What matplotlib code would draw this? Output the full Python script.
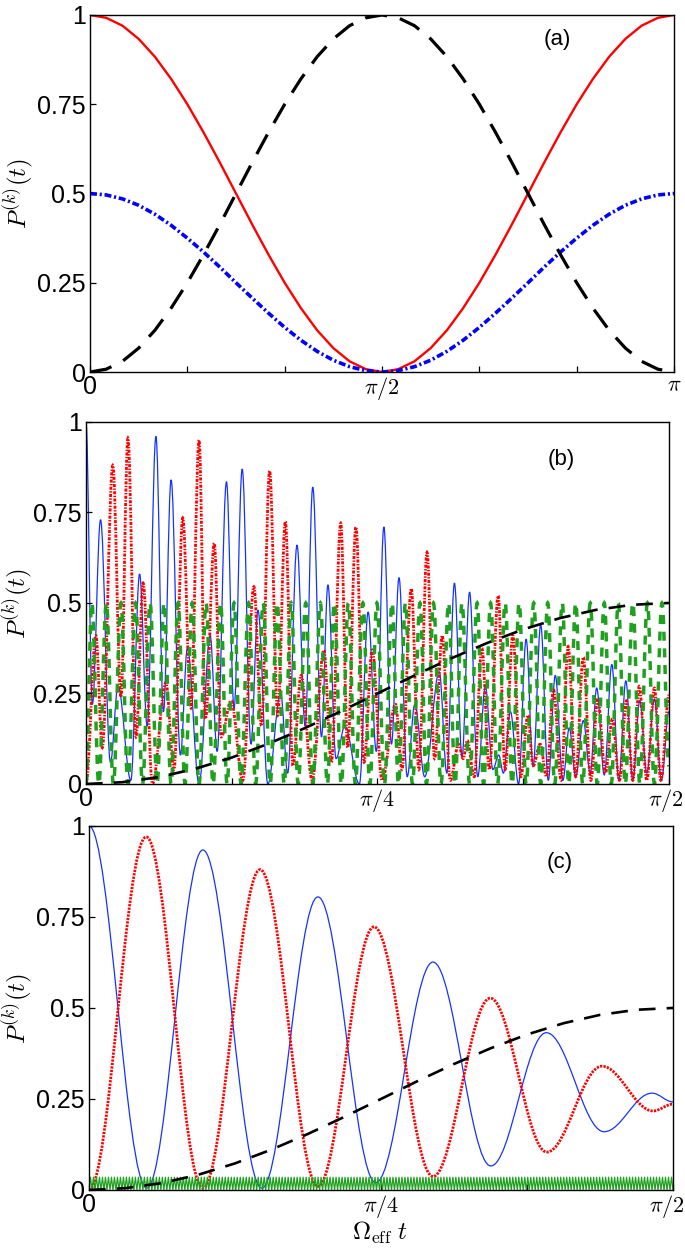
import numpy as np
import matplotlib
matplotlib.use("Agg")
import matplotlib.pyplot as plt
import matplotlib.transforms as mtransforms
from matplotlib.path import Path
from matplotlib.patches import PathPatch
from matplotlib import font_manager

# condensed sans for the numbers if it is there
_names = {f.name for f in font_manager.fontManager.ttflist}
_num_font = 'Liberation Sans Narrow' if 'Liberation Sans Narrow' in _names else 'Liberation Sans'
plt.rcParams['font.family'] = [_num_font, 'DejaVu Sans']
plt.rcParams['mathtext.fontset'] = 'cm'
plt.rcParams['lines.scale_dashes'] = False

# ---------------- data ----------------
# panel (a): t in units of pi, every 5 degrees from 0 to pi
t_a = np.linspace(0.0, 1.0, 37)
red_a = [1.000, 0.992, 0.970, 0.933, 0.883, 0.821, 0.750, 0.671, 0.587, 0.500,
         0.413, 0.329, 0.250, 0.179, 0.117, 0.067, 0.030, 0.008, 0.000, 0.008,
         0.030, 0.067, 0.117, 0.179, 0.250, 0.329, 0.413, 0.500, 0.587, 0.671,
         0.750, 0.821, 0.883, 0.933, 0.970, 0.992, 1.000]
black_a = [0.000, 0.008, 0.030, 0.067, 0.117, 0.179, 0.250, 0.329, 0.413, 0.500,
           0.587, 0.671, 0.750, 0.821, 0.883, 0.933, 0.970, 0.992, 1.000, 0.992,
           0.970, 0.933, 0.883, 0.821, 0.750, 0.671, 0.587, 0.500, 0.413, 0.329,
           0.250, 0.179, 0.117, 0.067, 0.030, 0.008, 0.000]
blue_a = [0.500, 0.496, 0.485, 0.467, 0.442, 0.411, 0.375, 0.336, 0.294, 0.250,
          0.207, 0.165, 0.125, 0.089, 0.058, 0.033, 0.015, 0.004, 0.000, 0.004,
          0.015, 0.033, 0.058, 0.089, 0.125, 0.165, 0.207, 0.250, 0.294, 0.336,
          0.375, 0.411, 0.442, 0.467, 0.485, 0.496, 0.500]

# panels (b),(c): t in units of pi/2
t_black = np.linspace(0.0, 1.0, 17)
black_bc = [0.000, 0.005, 0.019, 0.042, 0.073, 0.111, 0.154, 0.201, 0.250,
            0.299, 0.346, 0.389, 0.427, 0.458, 0.481, 0.495, 0.500]

# panel (b): turning points of each curve
blue_b_t = [0.000, 0.011, 0.025, 0.042, 0.055, 0.077, 0.092, 0.105, 0.120, 0.133,
            0.146, 0.162, 0.174, 0.194, 0.213, 0.225, 0.241, 0.254, 0.268, 0.283,
            0.295, 0.312, 0.334, 0.346, 0.362, 0.376, 0.389, 0.404, 0.415, 0.429,
            0.444, 0.469, 0.484, 0.498, 0.511, 0.524, 0.537, 0.551, 0.564, 0.581,
            0.606, 0.619, 0.632, 0.645, 0.658, 0.672, 0.685, 0.698, 0.708, 0.716,
            0.728, 0.742, 0.755, 0.767, 0.780, 0.793, 0.805, 0.818, 0.829, 0.840,
            0.853, 0.865, 0.876, 0.889, 0.902, 0.914, 0.926, 0.938, 0.950, 0.962,
            0.975, 0.987, 1.000]
blue_b_v = [1.00, 0.22, 0.73, 0.06, 0.27, 0.01, 0.58, 0.16, 0.96, 0.20,
            0.84, 0.08, 0.375, 0.00, 0.41, 0.09, 0.835, 0.21, 0.87, 0.11,
            0.48, 0.00, 0.25, 0.03, 0.66, 0.16, 0.82, 0.13, 0.55, 0.07,
            0.16, 0.00, 0.475, 0.09, 0.71, 0.11, 0.57, 0.02, 0.22, 0.02,
            0.31, 0.03, 0.555, 0.075, 0.53, 0.02, 0.27, 0.04, 0.08, 0.03,
            0.20, 0.00, 0.40, 0.05, 0.44, 0.01, 0.30, 0.01, 0.155, 0.02,
            0.175, 0.03, 0.265, 0.025, 0.33, 0.01, 0.285, 0.01, 0.23, 0.03,
            0.235, 0.01, 0.20]

red_b_t = [0.000, 0.017, 0.028, 0.046, 0.060, 0.072, 0.086, 0.098, 0.114, 0.137,
           0.151, 0.166, 0.180, 0.194, 0.205, 0.220, 0.232, 0.249, 0.269, 0.288,
           0.301, 0.315, 0.329, 0.342, 0.355, 0.369, 0.388, 0.408, 0.421, 0.437,
           0.449, 0.463, 0.477, 0.491, 0.508, 0.531, 0.542, 0.558, 0.571, 0.585,
           0.598, 0.611, 0.625, 0.639, 0.647, 0.654, 0.666, 0.679, 0.692, 0.707,
           0.719, 0.732, 0.746, 0.758, 0.767, 0.779, 0.790, 0.802, 0.815, 0.827,
           0.840, 0.853, 0.866, 0.878, 0.891, 0.903, 0.915, 0.927, 0.938, 0.949,
           0.962, 0.975, 0.986, 1.000]
red_b_v = [0.00, 0.41, 0.10, 0.88, 0.24, 0.955, 0.13, 0.555, 0.00, 0.28,
           0.04, 0.735, 0.21, 0.95, 0.18, 0.665, 0.13, 0.23, 0.01, 0.545,
           0.16, 0.865, 0.19, 0.725, 0.05, 0.30, 0.01, 0.37, 0.06, 0.72,
           0.10, 0.71, 0.06, 0.37, 0.01, 0.22, 0.04, 0.54, 0.04, 0.64,
           0.07, 0.41, 0.01, 0.11, 0.07, 0.12, 0.02, 0.375, 0.04, 0.52,
           0.04, 0.41, 0.02, 0.19, 0.05, 0.11, 0.02, 0.26, 0.01, 0.38,
           0.02, 0.35, 0.01, 0.235, 0.03, 0.18, 0.01, 0.23, 0.01, 0.27,
           0.01, 0.265, 0.01, 0.245]

green_b_t = [0.000, 0.010, 0.022, 0.035, 0.047, 0.060, 0.072, 0.085, 0.097, 0.110,
             0.122, 0.134, 0.146, 0.158, 0.170, 0.182, 0.194, 0.206, 0.218, 0.231,
             0.242, 0.254, 0.266, 0.279, 0.291, 0.304, 0.316, 0.328, 0.340, 0.352,
             0.364, 0.377, 0.389, 0.402, 0.414, 0.426, 0.438, 0.450, 0.462, 0.475,
             0.487, 0.499, 0.512, 0.525, 0.536, 0.548, 0.560, 0.573, 0.584, 0.596,
             0.609, 0.622, 0.633, 0.645, 0.658, 0.671, 0.682, 0.694, 0.706, 0.719,
             0.731, 0.743, 0.755, 0.768, 0.780, 0.792, 0.804, 0.817, 0.828, 0.840,
             0.852, 0.865, 0.877, 0.889, 0.901, 0.913, 0.925, 0.938, 0.950, 0.963,
             0.975, 0.988, 1.000]
green_b_v = [0.0, 0.5, 0.0, 0.5, 0.0, 0.5, 0.0, 0.5, 0.0, 0.5,
             0.0, 0.5, 0.0, 0.5, 0.0, 0.5, 0.0, 0.5, 0.0, 0.5,
             0.0, 0.5, 0.0, 0.5, 0.0, 0.5, 0.0, 0.5, 0.0, 0.5,
             0.0, 0.5, 0.0, 0.5, 0.0, 0.5, 0.0, 0.5, 0.0, 0.5,
             0.0, 0.5, 0.0, 0.5, 0.0, 0.5, 0.0, 0.5, 0.0, 0.5,
             0.0, 0.5, 0.0, 0.5, 0.0, 0.5, 0.0, 0.5, 0.0, 0.5,
             0.0, 0.5, 0.0, 0.5, 0.0, 0.5, 0.0, 0.5, 0.0, 0.5,
             0.0, 0.5, 0.0, 0.5, 0.0, 0.5, 0.0, 0.5, 0.0, 0.5,
             0.0, 0.5, 0.05]

# panel (c): turning points
blue_c_t = [0.000, 0.099, 0.195, 0.296, 0.392, 0.491, 0.589, 0.688, 0.783, 0.882, 0.964, 1.000]
blue_c_v = [1.000, 0.005, 0.934, 0.005, 0.805, 0.020, 0.626, 0.066, 0.432, 0.160, 0.266, 0.242]
red_c_t = [0.000, 0.098, 0.195, 0.293, 0.392, 0.488, 0.589, 0.687, 0.784, 0.878, 0.966, 1.000]
red_c_v = [0.000, 0.970, 0.005, 0.880, 0.010, 0.723, 0.037, 0.527, 0.104, 0.340, 0.217, 0.236]
green_c_low, green_c_high, green_c_cycles = 0.0, 0.035, 195

yticks = [0, 0.25, 0.5, 0.75, 1]
ytick_labels = ['0', '0.25', '0.5', '0.75', '1']


def smooth_line(ax, t, v, **kw):
    # smooth curve through turning points (flat tangent at each one)
    verts = [(t[0], v[0])]
    codes = [Path.MOVETO]
    for i in range(len(t) - 1):
        d = 0.364 * (t[i + 1] - t[i])
        verts += [(t[i] + d, v[i]), (t[i + 1] - d, v[i + 1]), (t[i + 1], v[i + 1])]
        codes += [Path.CURVE4] * 3
    ax.add_patch(PathPatch(Path(verts, codes), fill=False, **kw))


def style_axes(ax, xmax, nx, xlabels, shift_last=0):
    ax.set_xlim(0, xmax)
    ax.set_ylim(0, 1)
    ax.set_xticks(np.linspace(0, xmax, nx))
    ax.set_xticklabels(xlabels)
    ax.set_yticks(yticks)
    ax.set_yticklabels(ytick_labels)
    ax.tick_params(direction='in', length=4, width=0.9, labelsize=18, pad=3,
                   top=False, right=False)
    ax.tick_params(axis='x', pad=2)
    labs = ax.get_xticklabels()
    for lab in labs:
        if '$' in lab.get_text():
            lab.set_fontsize(16)
    if shift_last:
        off = mtransforms.ScaledTranslation(shift_last / 72.0, 0, ax.figure.dpi_scale_trans)
        labs[-1].set_transform(labs[-1].get_transform() + off)
    for s in ax.spines.values():
        s.set_linewidth(1.0)
    ax.set_ylabel(r'$P^{(k)}(t)$', fontsize=18)


fig = plt.figure(figsize=(6.85, 12.48), dpi=100)

# ---------------- (a) ----------------
ax1 = fig.add_axes([0.1314, 0.7019, 0.8526, 0.2861])
x1 = t_a * np.pi
ax1.plot(x1, red_a, color='#ff0000', lw=1.7)
ax1.plot(x1, blue_a, color='#0000ff', lw=2.6, linestyle=(0, (5, 2.0, 1.5, 2.0)))
ax1.plot(x1, black_a, color='black', lw=2.3, linestyle=(0, (16, 9.5)))
style_axes(ax1, np.pi, 7, ['0', '', '', r'$\pi/2$', '', '', r'$\pi$'])
ax1.yaxis.set_label_coords(-0.093, 0.5)
ax1.text(0.80, 0.93, '(a)', transform=ax1.transAxes, fontsize=16, ha='center', va='center')

# ---------------- (b) ----------------
ax2 = fig.add_axes([0.1255, 0.3718, 0.8511, 0.2901])
h = np.pi / 2
smooth_line(ax2, np.array(blue_b_t) * h, blue_b_v, edgecolor='#1433ff', lw=0.9)
smooth_line(ax2, np.array(red_b_t) * h, red_b_v, edgecolor='#ff0000', lw=2.0,
            linestyle=(0, (2.2, 1.0, 1.0, 1.0)))
smooth_line(ax2, np.array(green_b_t) * h, green_b_v, edgecolor='#1fa01f', lw=2.5,
            linestyle=(0, (6.5, 5.5)))
ax2.plot(t_black * h, black_bc, color='black', lw=1.9, linestyle=(0, (12, 8)))
style_axes(ax2, h, 5, ['0', '', r'$\pi/4$', '', r'$\pi/2$'], shift_last=-2.5)
ax2.yaxis.set_label_coords(-0.087, 0.5)
ax2.text(0.815, 0.895, '(b)', transform=ax2.transAxes, fontsize=16, ha='center', va='center')

# ---------------- (c) ----------------
ax3 = fig.add_axes([0.1299, 0.0465, 0.8526, 0.2917])
tg = np.linspace(0, 1, 2 * green_c_cycles + 1) * h
vg = np.tile([green_c_low, green_c_high], green_c_cycles + 1)[:len(tg)]
ax3.plot(tg, vg, color='#1fa01f', lw=0.9)
smooth_line(ax3, np.array(blue_c_t) * h, blue_c_v, edgecolor='#1433ff', lw=0.9)
smooth_line(ax3, np.array(red_c_t) * h, red_c_v, edgecolor='#ff0000', lw=2.0,
            linestyle=(0, (1.6, 0.9)))
ax3.plot(t_black * h, black_bc, color='black', lw=1.9, linestyle=(0, (12, 8)))
style_axes(ax3, h, 5, ['0', '', r'$\pi/4$', '', r'$\pi/2$'], shift_last=-4.5)
ax3.yaxis.set_label_coords(-0.092, 0.5)
ax3.set_xlabel(r'$\Omega_{\rm eff}\; t$', fontsize=18)
ax3.xaxis.set_label_coords(0.497, -0.083)
ax3.text(0.806, 0.90, '(c)', transform=ax3.transAxes, fontsize=16, ha='center', va='center')

fig.savefig('out.png', dpi=100)
